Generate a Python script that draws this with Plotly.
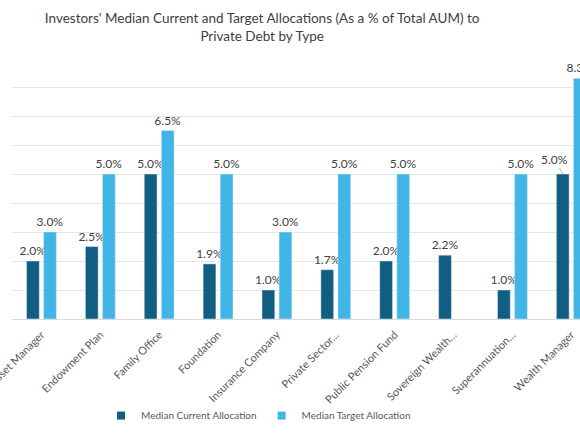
import plotly.graph_objects as go

# investor types and median allocations (% of total AUM)
investor_types = [
    "Asset Manager",
    "Endowment Plan",
    "Family Office",
    "Foundation",
    "Insurance Company",
    "Private Sector…",
    "Public Pension Fund",
    "Sovereign Wealth…",
    "Superannuation…",
    "Wealth Manager",
]
current_alloc = [2.0, 2.5, 5.0, 1.9, 1.0, 1.7, 2.0, 2.2, 1.0, 5.0]
target_alloc = [3.0, 5.0, 6.5, 5.0, 3.0, 5.0, 5.0, None, 5.0, 8.3]

DARK = "#115e83"
LIGHT = "#41b5e6"
TEXT = "#404040"


def _labels(values):
    return [f"{v:.1f}%" if v is not None else "" for v in values]


current_text = _labels(current_alloc)
# last label is drawn as a callout with a leader line (see annotation below)
current_text[-1] = ""

fig = go.Figure()
for name, values, text, colour in [
    ("Median Current Allocation", current_alloc, current_text, DARK),
    ("Median Target Allocation", target_alloc, _labels(target_alloc), LIGHT),
]:
    fig.add_trace(go.Bar(
        name=name,
        x=investor_types,
        y=values,
        marker_color=colour,
        text=text,
        textposition="outside",
        textangle=0,
        constraintext="none",
        textfont=dict(size=12, color=TEXT),
        cliponaxis=True,
        showlegend=False,
    ))
    # small square legend swatches
    fig.add_trace(go.Scatter(
        name=name,
        x=[None],
        y=[None],
        mode="markers",
        marker=dict(symbol="square", size=8, color=colour),
    ))

fig.add_annotation(
    x=investor_types[-1],
    y=current_alloc[-1],
    xshift=-8.5,
    text=f"{current_alloc[-1]:.1f}%",
    showarrow=True,
    arrowhead=0,
    arrowwidth=0.8,
    arrowcolor="#a6a6a6",
    standoff=0,
    ax=-8,
    ay=-15,
    font=dict(size=12, color=TEXT),
)

# the source chart is cropped: the plot area runs past the right edge
fig.update_layout(
    width=580,
    height=435,
    margin=dict(t=58, l=12, r=0, b=116, autoexpand=False),
    paper_bgcolor="white",
    plot_bgcolor="white",
    font=dict(family="Lato", color=TEXT),
    title=dict(
        text="Investors' Median Current and Target Allocations (As a % of Total AUM) to<br>Private Debt by Type",
        x=0.452,
        xanchor="center",
        xref="container",
        y=0.946,
        yanchor="middle",
        yref="container",
        font=dict(size=13.5, color=TEXT),
    ),
    barmode="group",
    bargap=0.42,
    bargroupgap=0.25,
    legend=dict(
        orientation="h",
        x=0.434,
        xanchor="center",
        y=-0.37,
        yanchor="middle",
        itemwidth=30,
        bgcolor="rgba(0,0,0,0)",
        font=dict(size=10, color="#595959"),
    ),
)
fig.update_xaxes(
    range=[-0.5, 9.148],
    tickangle=-45,
    tickfont=dict(size=11, color="#595959"),
    ticklabelstandoff=4,
    automargin=False,
    showgrid=False,
    showline=True,
    linecolor="#d9d9d9",
)
fig.update_yaxes(
    range=[0, 9],
    dtick=1,
    showticklabels=False,
    automargin=False,
    showgrid=True,
    gridcolor="#e6e6e6",
    zeroline=False,
)

fig.write_html(
    "out.html",
    config={"displayModeBar": False},
    post_script="document.body.style.margin='0';",
)
